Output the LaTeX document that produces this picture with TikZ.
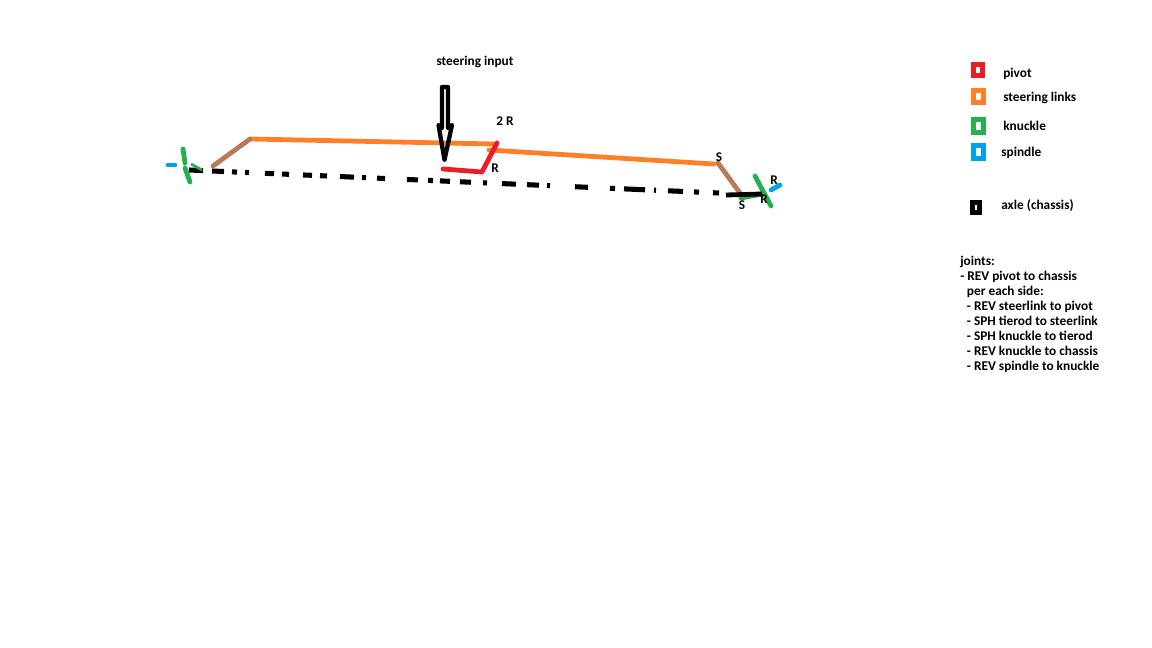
\documentclass[tikz,border=0pt]{standalone}
\usepackage{fontspec}
\setmainfont{Carlito}
\usetikzlibrary{positioning,calc}
\tikzset{
  lbl/.style={inner sep=0pt, font=\fontsize{10}{11.25}\selectfont\bfseries},
  link/.style={draw=#1, line width=3.6pt, line cap=round, line join=round},
  swatch/.style={draw=#1, fill=white, line width=3.75pt, inner sep=0pt, minimum width=7.5pt, minimum height=9pt}
}
\definecolor{pivotred}{HTML}{ED1C24}
\definecolor{linkorange}{HTML}{FF7F27}
\definecolor{knucklegreen}{HTML}{22B14C}
\definecolor{spindleblue}{HTML}{00A2E8}
\definecolor{tierodbrown}{HTML}{B97A57}
\begin{document}
\begin{tikzpicture}[x=0.75pt, y=-0.75pt]
            \useasboundingbox (0,0) rectangle (1152,648);
            % mechanism points, in pixels
            \coordinate (axleL) at (189,170);
            \coordinate (axleR) at (765,195);
            \coordinate (tieL) at (213,166);
            \coordinate (linkL) at (250,139);
            \coordinate (linkM) at (494,144);
            \coordinate (linkN) at (489,150);
            \coordinate (linkR) at (714,164);
            \coordinate (tieR) at (718,163);
            \coordinate (tieS) at (740,193);
            \coordinate (pivotA) at (443,169);
            \coordinate (pivotB) at (482,172);
            \coordinate (pivotC) at (497,143);
            % axle, broken up
            \foreach \a/\b in {189/203,212/224,232/237,245/249,265/274,282/289,303/312,320/327,340/354,362/366,377/385,407/418,428/433,440/450,460/471,483/487,502/516,527/539,547/550,575/588,610/615,624/645,654/656,668/683,694/699,713/719} {
                \draw [black, line width=3.8pt] ($(axleL)!{(\a-189)/576}!(axleR)$) -- ($(axleL)!{(\b-189)/576}!(axleR)$);
            }
            \coordinate (axleS) at (726,195);
            \draw [black, line width=3.6pt] (axleS) -- (axleR);
            % links
            \draw [link=linkorange] (linkL) -- (linkM);
            \draw [link=linkorange] (linkN) -- (linkR);
            \draw [link=tierodbrown] (tieL) -- (linkL);
            \draw [link=tierodbrown] (tieR) -- (tieS);
            \draw [link=pivotred] (pivotA) -- (pivotB) -- (pivotC);
            % left wheel
            \coordinate (knLa) at (183,149);
            \coordinate (knLb) at (185,163);
            \coordinate (knLc) at (185,168);
            \coordinate (knLd) at (190,182);
            \coordinate (knLe) at (191,164);
            \coordinate (knLf) at (202,170);
            \coordinate (spLa) at (168,165);
            \coordinate (spLb) at (175,165);
            \draw [link=knucklegreen] (knLa) -- (knLb) (knLc) -- (knLd);
            \draw [knucklegreen, line width=2pt] (knLe) -- (knLf);
            \draw [link=spindleblue] (spLa) -- (spLb);
            % right wheel
            \coordinate (knRa) at (755,176);
            \coordinate (knRb) at (771,206);
            \coordinate (knRc) at (741,198);
            \coordinate (knRd) at (762,194);
            \coordinate (spRa) at (771,190);
            \coordinate (spRb) at (780,185);
            \draw [link=knucklegreen] (knRa) -- (knRb) (knRc) -- (knRd);
            \draw [link=spindleblue] (spRa) -- (spRb);
            \draw [black, line width=3.6pt] (axleS) -- (knRd);
            % input arrow
            \coordinate (arA) at (442,87);
            \coordinate (arB) at (442,128);
            \coordinate (arC) at (438.5,125);
            \coordinate (arD) at (444.5,160);
            \coordinate (arE) at (452,125);
            \coordinate (arF) at (448,128);
            \coordinate (arG) at (448,87);
            \draw [black, line width=3.2pt, line join=round] (arA) -- (arB) -- (arC) -- (arD) -- (arE) -- (arF) -- (arG) -- cycle;
            % labels
            \node [lbl] (input) at (475,61.5) {steering input};
            \node [lbl] (twoR) at (505,121.5) {2 R};
            \node [lbl] (pivotR) at (495,168) {R};
            \node [lbl] (tieSa) at (719,157) {S};
            \node [lbl] (tieSb) at (742,205) {S};
            \node [lbl] (knR) at (764,199) {R};
            \node [lbl] (spR) at (774,180) {R};
            % legend
            \node [swatch=pivotred, minimum width=6.5pt, minimum height=8pt] (keyPivot) at (978,70) {};
            \node [swatch=linkorange] (keyLinks) at (978.5,97) {};
            \node [swatch=knucklegreen, minimum height=9.75pt] (keyKnuckle) at (978.5,126) {};
            \node [swatch=spindleblue, minimum height=9.75pt] (keySpindle) at (978.5,152) {};
            \node [swatch=black, line width=3.4pt, minimum width=5.5pt, minimum height=7.5pt] (keyAxle) at (976,207.5) {};
            \node [lbl, anchor=west] (txtPivot) at (1003,73.5) {pivot};
            \node [lbl, anchor=west] (txtLinks) at (1003,98) {steering links};
            \node [lbl, anchor=west] (txtKnuckle) at (1003,126) {knuckle};
            \node [lbl, anchor=west] (txtSpindle) at (1001,152.5) {spindle};
            \node [lbl, anchor=west] (txtAxle) at (1001,205.5) {axle (chassis)};
            \node [lbl, anchor=north west, align=left] (joints) at (960,256) {joints:\\- REV pivot to chassis\\\hspace*{5pt}per each side:\\\hspace*{5pt}- REV steerlink to pivot\\\hspace*{5pt}- SPH tierod to steerlink\\\hspace*{5pt}- SPH knuckle to tierod\\\hspace*{5pt}- REV knuckle to chassis\\\hspace*{5pt}- REV spindle to knuckle};
        \end{tikzpicture}
\end{document}
